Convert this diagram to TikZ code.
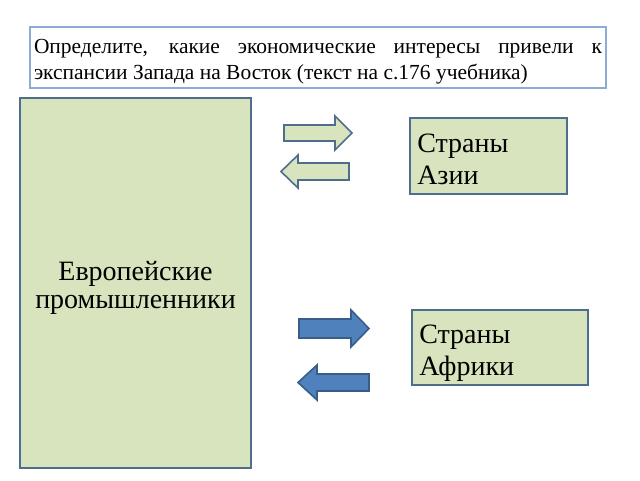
\documentclass[tikz,border=0pt]{standalone}
\usepackage{fontspec}
\setmainfont{Liberation Serif}
\definecolor{boxgreen}{HTML}{D7E4BD}
\definecolor{boxline}{HTML}{4F6E8E}
\definecolor{topline}{HTML}{8CACD6}
\definecolor{arrblue}{HTML}{4F81BD}
\definecolor{arrblueline}{HTML}{385D8A}
\tikzset{
  px/.style={x=0.75pt,y=-0.75pt},
  greenbox/.style={draw=boxline,line width=1.2pt,fill=boxgreen},
  bigtext/.style={font=\fontsize{21pt}{24pt}\selectfont},
  boxtext/.style={bigtext,anchor=base west,align=left,inner sep=0pt},
  greenarrow/.style={draw=boxline,line width=1.2pt,fill=boxgreen,line join=miter},
  bluearrow/.style={draw=arrblueline,line width=1.2pt,fill=arrblue,line join=miter}
}
\begin{document}
\begin{tikzpicture}[px]
\useasboundingbox (0,0) rectangle (640,480);
% top question box
\node[draw=topline,line width=1pt,fill=white,minimum width=576*0.75pt,minimum height=61*0.75pt] (q) at (318,57.5) {};
\node[text width=568*0.75pt,align=justify,inner sep=0pt,anchor=base,
  font=\fontsize{16.1pt}{19.5pt}\selectfont] (qtext) at (318,53)
  {Определите, какие экономические интересы привели к экспансии Запада на Восток (текст на с.176 учебника)};
% European industrialists
\node[greenbox,minimum width=231*0.75pt,minimum height=370*0.75pt] (eu) at (135.5,283) {};
\node[align=center,anchor=center,font=\fontsize{21pt}{21pt}\selectfont] (eutext) at (135.5,288)
  {Европейские\\промышленники};
% Asia
\node[greenbox,minimum width=157*0.75pt,minimum height=76*0.75pt] (asia) at (488.5,156) {};
\node[boxtext] (asiatext) at (417,184) {Страны\\Азии};
% Africa
\node[greenbox,minimum width=176*0.75pt,minimum height=75*0.75pt] (africa) at (500,347.5) {};
\node[boxtext] (africatext) at (419,375) {Страны\\Африки};
% green arrows (Asia)
\draw[greenarrow] (284,125) -- (335,125) -- (335,116) -- (352,133) -- (335,150) -- (335,141) -- (284,141) -- cycle;
\draw[greenarrow] (349,163) -- (298,163) -- (298,155) -- (281,171.5) -- (298,188) -- (298,180) -- (349,180) -- cycle;
% blue arrows (Africa)
\draw[bluearrow] (299,319) -- (351,319) -- (351,310) -- (369,328.5) -- (351,347) -- (351,338) -- (299,338) -- cycle;
\draw[bluearrow] (369,374) -- (317,374) -- (317,365) -- (298,382.5) -- (317,400) -- (317,391) -- (369,391) -- cycle;
\end{tikzpicture}
\end{document}
